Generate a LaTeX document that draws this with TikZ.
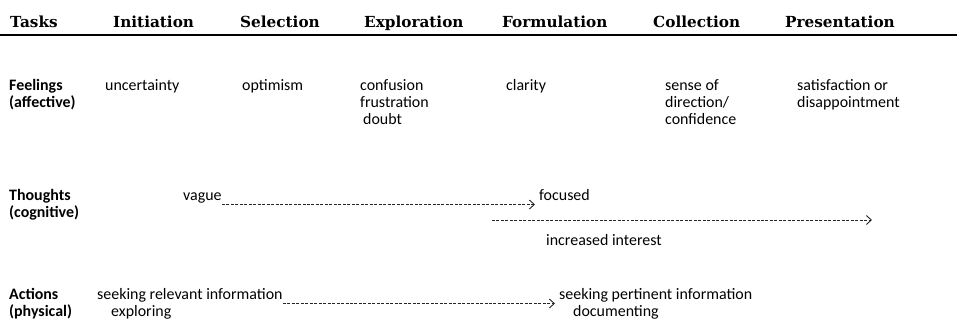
\documentclass[tikz,border=0pt]{standalone}
\usepackage{fontspec}
\setmainfont{Carlito}
\newfontfamily\headfont{DejaVu Serif}
\usetikzlibrary{arrows.meta}
\tikzset{
  head/.style={anchor=base west, inner sep=0pt, font=\headfont\bfseries\fontsize{15.3}{18}\selectfont},
  txt/.style={anchor=base west, inner sep=0pt, font=\fontsize{16}{19}\selectfont},
  lbl/.style={txt, font=\bfseries\fontsize{16}{19}\selectfont},
  flow/.style={draw=black!85, line width=0.8pt, dash pattern=on 3pt off 1.5pt, -{Straight Barb[length=5pt,width=9pt,line width=0.9pt]}}
}
\begin{document}
\begin{tikzpicture}[x=1bp,y=-1bp]
\useasboundingbox (0,0) rectangle (957,324);
% header
\node[head] (tasks) at (10,27.5) {Tasks};
\node[head] (init) at (113,27.5) {Initiation};
\node[head] (sel) at (240,27.5) {Selection};
\node[head] (expl) at (364,27.5) {Exploration};
\node[head] (form) at (502,27.5) {Formulation};
\node[head] (coll) at (653,27.5) {Collection};
\node[head] (pres) at (785,27.5) {Presentation};
\coordinate (ruleL) at (0,35);
\coordinate (ruleR) at (957,35);
\draw[line width=1.3pt] (ruleL) -- (ruleR);
% feelings
\node[lbl] (feel1) at (9,90) {Feelings};
\node[lbl] (feel2) at (9,107) {(affective)};
\node[txt] (unc) at (105,90) {uncertainty};
\node[txt] (opt) at (242,90) {optimism};
\node[txt] (conf1) at (360,90) {confusion};
\node[txt] (conf2) at (360,107) {frustration};
\node[txt] (conf3) at (363,124) {doubt};
\node[txt] (clar) at (506,90) {clarity};
\node[txt] (sen1) at (665,90) {sense of};
\node[txt] (sen2) at (665,107) {direction/};
\node[txt] (sen3) at (665,124) {confidence};
\node[txt] (sat1) at (797,90) {satisfaction or};
\node[txt] (sat2) at (797,107) {disappointment};
% thoughts
\node[lbl] (th1) at (9,200) {Thoughts};
\node[lbl] (th2) at (9,217) {(cognitive)};
\node[txt] (vague) at (183,200) {vague};
\node[txt] (foc) at (539,200) {focused};
\draw[flow] ([yshift=-4.5bp]vague.base east) -- ([xshift=-4bp,yshift=-4.5bp]foc.base west);
\coordinate (intS) at (492,220);
\coordinate (intE) at (872,220);
\draw[flow] (intS) -- (intE);
\node[txt] (int) at (546,245) {increased interest};
% actions
\node[lbl] (ac1) at (9,299) {Actions};
\node[lbl] (ac2) at (9,316) {(physical)};
\node[txt] (rel) at (97,299) {seeking relevant information};
\node[txt] (expg) at (111,316) {exploring};
\node[txt] (pert) at (559,299) {seeking pertinent information};
\node[txt] (doc) at (573,316) {documenting};
\draw[flow] ([yshift=-4.5bp]rel.base east) -- ([xshift=-4bp,yshift=-4.5bp]pert.base west);
\end{tikzpicture}
\end{document}
